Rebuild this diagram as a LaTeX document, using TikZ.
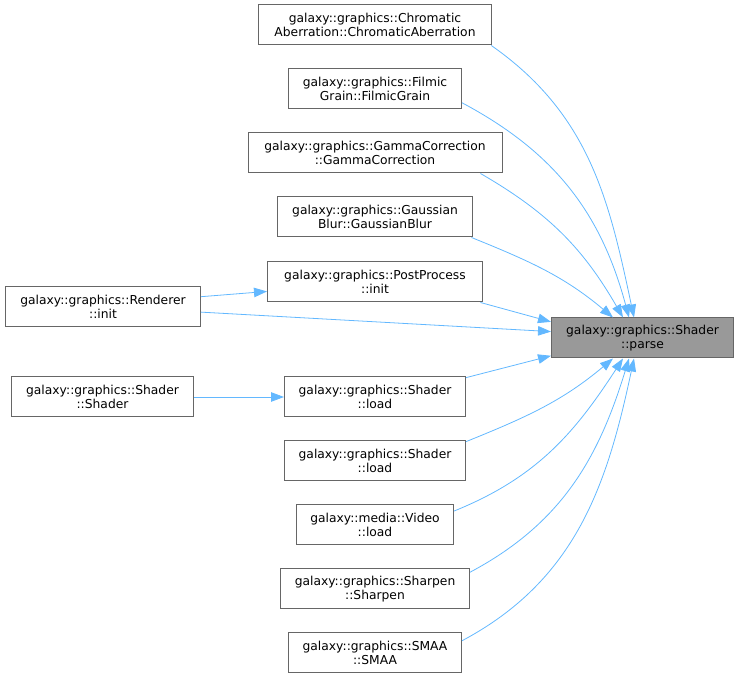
\documentclass[tikz,border=0pt]{standalone}
\usepackage{fontspec}
\setmainfont{DejaVu Sans}
\usetikzlibrary{arrows.meta, positioning}
\definecolor{edgeblue}{HTML}{63B8FF}
\definecolor{boxgray}{HTML}{666666}
\definecolor{focusgray}{HTML}{999999}

\begin{document}
\begin{tikzpicture}[x=1pt,y=1pt,->,>={Triangle[length=13pt,width=9.5pt]},
  fn/.style={rectangle,draw=boxgray,line width=1pt,fill=white,align=center,
  font=\fontsize{12.3}{14.4}\selectfont,minimum height=40pt,inner xsep=4pt,inner ysep=2pt},
  focus/.style={fn,fill=focusgray}]
  \useasboundingbox (0,0) rectangle (737,677);
  \node[fn, minimum width=233pt] (ca) at (375,652) {galaxy::graphics::Chromatic\\Aberration::ChromaticAberration};
  \node[fn, minimum width=173pt] (fg) [below=23pt of ca] {galaxy::graphics::Filmic\\Grain::FilmicGrain};
  \node[fn, minimum width=254pt] (gc) [below=23pt of fg] {galaxy::graphics::GammaCorrection\\::GammaCorrection};
  \node[fn, minimum width=195pt] (gb) [below=23pt of gc] {galaxy::graphics::Gaussian\\Blur::GaussianBlur};
  \node[fn, minimum width=215pt] (pp) [below=24pt of gb] {galaxy::graphics::PostProcess\\::init};
  \node[fn, minimum width=181pt] (ld1) [below=74pt of pp] {galaxy::graphics::Shader\\::load};
  \node[fn, minimum width=181pt] (ld2) [below=23pt of ld1] {galaxy::graphics::Shader\\::load};
  \node[fn, minimum width=157pt] (vid) [below=23pt of ld2] {galaxy::media::Video\\::load};
  \node[fn, minimum width=189pt] (shp) [below=23pt of vid] {galaxy::graphics::Sharpen\\::Sharpen};
  \node[fn, minimum width=173pt] (smaa) [below=23pt of shp] {galaxy::graphics::SMAA\\::SMAA};

  \node[fn, minimum width=195pt] (ren) at (103,370) {galaxy::graphics::Renderer\\::init};
  \node[fn, minimum width=182pt] (shc) [left=90pt of ld1] {galaxy::graphics::Shader\\::Shader};
  \node[focus, minimum width=182pt] (parse) at (642.5,339) {galaxy::graphics::Shader\\::parse};

  \path[every edge/.style={draw=edgeblue,line width=0.8pt}]
    % callers above the focus node
    (ca.-10) edge[out=-35, in=102] ([xshift=-8.5pt]parse.north)
    (fg.-9) edge[out=-28, in=105] ([xshift=-13.5pt]parse.north)
    (gc.-11) edge[out=-30, in=120] ([xshift=-19.5pt]parse.north)
    (gb.-12) edge[out=-22, in=140] ([xshift=-29.5pt]parse.north)
    (pp.-11.5) edge (parse.170)
    (ren.6) edge (pp.185)
    (ren.-3) edge (parse.176)
    % callers below the focus node
    (shc) edge (ld1)
    (ld1.12) edge (parse.191)
    (ld2.12) edge[out=22, in=-140] ([xshift=-29.5pt]parse.south)
    (vid.10) edge[out=22, in=-123] ([xshift=-19.5pt]parse.south)
    (shp.10) edge[out=28, in=-107] ([xshift=-13.5pt]parse.south)
    (smaa.8) edge[out=28, in=-102] ([xshift=-8.5pt]parse.south);
\end{tikzpicture}
\end{document}
